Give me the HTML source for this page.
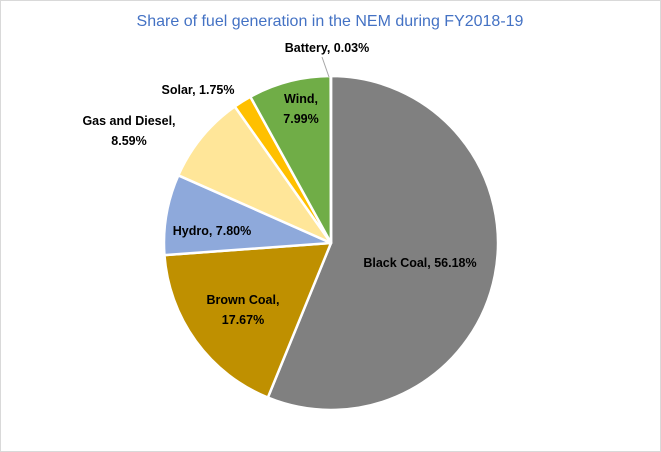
<!DOCTYPE html>
<html><head><meta charset="utf-8"><style>
html,body{margin:0;padding:0;background:#fff;}
svg{display:block;font-family:"Liberation Sans",Arial,sans-serif;}
</style></head><body>
<svg width="661" height="452" viewBox="0 0 661 452">
<rect x="0.5" y="0.5" width="660" height="451" fill="#fff" stroke="#d9d9d9"/>
<text x="330" y="26" text-anchor="middle" font-size="16" fill="#4472C4">Share of fuel generation in the NEM during FY2018-19</text>
<g id="slices"></g>
<g id="labels" font-size="12.5" font-weight="bold" fill="#000"></g>
<line x1="322" y1="57" x2="329" y2="77" stroke="#a6a6a6"/>
</svg>
<script>
const categories=["Black Coal","Brown Coal","Hydro","Gas and Diesel","Solar","Wind","Battery"];
const values=[56.18,17.67,7.80,8.59,1.75,7.99,0.03];
const colors=["#808080","#BF9000","#8EA9DB","#FFE699","#FFC000","#70AD47","#4472C4"];
const labelLines=[["Black Coal, 56.18%"],["Brown Coal,","17.67%"],["Hydro, 7.80%"],["Gas and Diesel,","8.59%"],["Solar, 1.75%"],["Wind,","7.99%"],["Battery, 0.03%"]];
const labelPos=[[420,267],[243,304],[212,235],[129,125],[198,94],[301,103],[327,52]];
const cx=331,cy=243,r=167;
const ns="http://www.w3.org/2000/svg";
const total=values.reduce((a,b)=>a+b,0);
const sg=document.getElementById("slices"),lg=document.getElementById("labels");
let a0=-Math.PI/2;
values.forEach((v,i)=>{
  const a1=a0+v/total*2*Math.PI;
  const x0=cx+r*Math.cos(a0),y0=cy+r*Math.sin(a0),x1=cx+r*Math.cos(a1),y1=cy+r*Math.sin(a1);
  const large=(a1-a0)>Math.PI?1:0;
  const p=document.createElementNS(ns,"path");
  p.setAttribute("d",`M${cx},${cy}L${x0},${y0}A${r},${r} 0 ${large} 1 ${x1},${y1}Z`);
  p.setAttribute("fill",colors[i]);
  p.setAttribute("stroke","#fff");
  p.setAttribute("stroke-width","2.5");
  p.setAttribute("stroke-linejoin","round");
  
  
  sg.appendChild(p);
  const t=document.createElementNS(ns,"text");
  t.setAttribute("text-anchor","middle");
  labelLines[i].forEach((ln,j)=>{
    const s=document.createElementNS(ns,"tspan");
    s.setAttribute("x",labelPos[i][0]);
    s.setAttribute("y",labelPos[i][1]+j*20);
    s.textContent=ln;
    t.appendChild(s);
  });
  
  
  lg.appendChild(t);
  a0=a1;
});
</script>
</body></html>
